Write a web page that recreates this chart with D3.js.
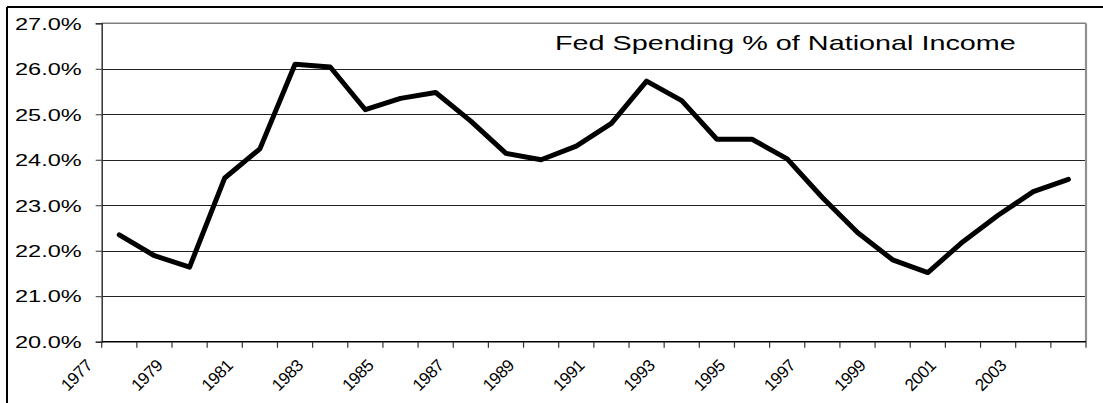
<!DOCTYPE html>
<html>
<head>
<meta charset="utf-8">
<script src="https://cdn.jsdelivr.net/npm/d3@7"></script>
<style>
  html, body { margin: 0; padding: 0; background: #fff; }
  svg { display: block; }
  text { font-family: "Liberation Sans", Arial, sans-serif; fill: #000; }
</style>
</head>
<body>
<svg id="chart" width="1103" height="403"></svg>
<script>
// Federal spending as a share of national income, 1977–2004
const years = [1977, 1978, 1979, 1980, 1981, 1982, 1983, 1984, 1985, 1986,
               1987, 1988, 1989, 1990, 1991, 1992, 1993, 1994, 1995, 1996,
               1997, 1998, 1999, 2000, 2001, 2002, 2003, 2004];
const spendingPct = [22.35, 21.89, 21.64, 23.6, 24.24, 26.1, 26.04, 25.1, 25.35, 25.48,
                     24.85, 24.14, 24.0, 24.3, 24.8, 25.73, 25.3, 24.45, 24.45, 24.02,
                     23.17, 22.4, 21.8, 21.52, 22.2, 22.78, 23.3, 23.57];
const yTicks = [20, 21, 22, 23, 24, 25, 26, 27];
const xLabelYears = years.filter((y, i) => i % 2 === 0);
const titleText = "Fed Spending % of National Income";

const svg = d3.select("#chart");

const plot = { left: 101.7, right: 1086, top: 23.3, bottom: 341.7 };

const x = d3.scaleBand().domain(years).range([plot.left, plot.right]).padding(0);
const y = d3.scaleLinear().domain([20, 27]).range([plot.bottom, plot.top]);

// outer chart frame (top and left edges)
svg.append("line").attr("x1", 7).attr("x2", 1103).attr("y1", 7).attr("y2", 7)
  .attr("stroke", "#000").attr("stroke-width", 2);
svg.append("line").attr("x1", 7).attr("x2", 7).attr("y1", 7).attr("y2", 403)
  .attr("stroke", "#000").attr("stroke-width", 2);

// horizontal gridlines
svg.append("g").selectAll("line").data(yTicks.slice(1, -1)).join("line")
  .attr("x1", plot.left).attr("x2", plot.right)
  .attr("y1", d => Math.round(y(d)) + 0.5).attr("y2", d => Math.round(y(d)) + 0.5)
  .attr("stroke", "#222").attr("stroke-width", 1);

// plot area border: top and right in gray
svg.append("line").attr("x1", plot.left).attr("x2", plot.right)
  .attr("y1", y(27)).attr("y2", y(27)).attr("stroke", "#808080").attr("stroke-width", 1.5);
svg.append("line").attr("x1", plot.right).attr("x2", plot.right)
  .attr("y1", y(27)).attr("y2", y(20)).attr("stroke", "#909090").attr("stroke-width", 2.2);

// y axis
const yAxis = d3.axisLeft(y).tickValues(yTicks).tickSize(6).tickFormat(d => d.toFixed(1) + "%");
const gy = svg.append("g").attr("transform", `translate(${plot.left},0)`).call(yAxis);
gy.select(".domain").attr("stroke", "#333").attr("stroke-width", 1.5);
gy.selectAll(".tick line").attr("stroke", "#333");
gy.selectAll(".tick text").remove();
gy.selectAll(".tick").append("text")
  .attr("text-anchor", "end")
  .attr("transform", "translate(-20,0) scale(1.47,1)")
  .attr("dy", "0.36em")
  .style("font-size", "16px")
  .text(d => d.toFixed(1) + "%");

// x axis: ticks at category boundaries
const bounds = years.map(d => x(d)).concat([plot.right]);
const gx = svg.append("g");
gx.append("line").attr("x1", plot.left).attr("x2", plot.right)
  .attr("y1", plot.bottom).attr("y2", plot.bottom).attr("stroke", "#000").attr("stroke-width", 1.5);
gx.selectAll("line.tk").data(bounds).join("line").attr("class", "tk")
  .attr("x1", d => d).attr("x2", d => d)
  .attr("y1", plot.bottom).attr("y2", plot.bottom + 6)
  .attr("stroke", "#333").attr("stroke-width", 1.2);
gx.selectAll("text").data(xLabelYears).join("text")
  .attr("text-anchor", "end")
  .attr("transform", d => `translate(${x(d) + x.bandwidth() / 2 - 26},${plot.bottom + 25}) rotate(-45)`)
  .style("font-size", "17px")
  .style("letter-spacing", "-0.5px")
  .text(d => d);

// series line
const line = d3.line()
  .x((d, i) => x(years[i]) + x.bandwidth() / 2)
  .y(d => y(d));
svg.append("path").datum(spendingPct)
  .attr("d", line)
  .attr("fill", "none")
  .attr("stroke", "#000")
  .attr("stroke-width", 5)
  .attr("stroke-linejoin", "round")
  .attr("stroke-linecap", "round");

// title inside the plot area
svg.append("text")
  .attr("transform", "translate(555,50) scale(1.44,1)")
  .style("font-size", "20px")
  .text(titleText);
</script>
</body>
</html>
